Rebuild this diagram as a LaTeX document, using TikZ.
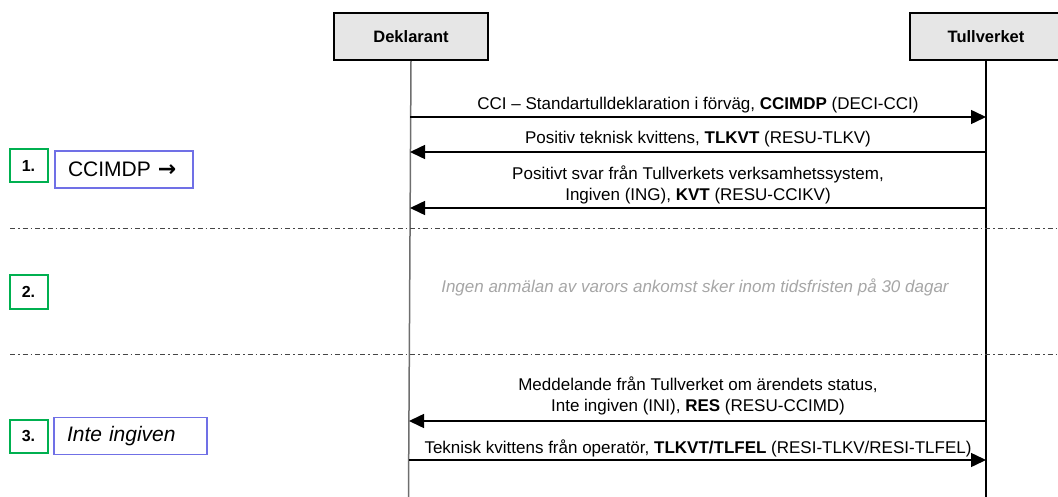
\documentclass[tikz,border=0pt]{standalone}
\usepackage{fontspec}
\setmainfont{Liberation Sans}
\newfontfamily\symfont{DejaVu Sans}
\usetikzlibrary{arrows.meta}
\definecolor{hdrfill}{RGB}{230,230,230}
\definecolor{stepgreen}{RGB}{0,176,80}
\definecolor{stepblue}{RGB}{112,112,230}
\definecolor{notegray}{RGB}{166,166,166}
\definecolor{lifegray}{RGB}{110,110,110}
\definecolor{divgray}{RGB}{70,70,70}
\begin{document}
\begin{tikzpicture}[x=1pt,y=-1pt,
  header/.style={draw=black, line width=2pt, fill=hdrfill, minimum height=47pt, inner sep=0pt,
    font=\fontsize{16.5}{20}\selectfont\bfseries},
  msg/.style={line width=1.5pt, -{Triangle[length=15pt,width=14pt]}},
  lbl/.style={anchor=base, inner sep=0pt, align=center, font=\fontsize{17}{21}\selectfont},
  numbox/.style={draw=stepgreen, line width=2pt, minimum width=38pt, minimum height=33pt, inner sep=0pt,
    font=\fontsize{16}{19}\selectfont\bfseries},
  statbox/.style={draw=stepblue, line width=1.5pt, inner xsep=13pt, inner ysep=0pt, minimum height=37pt,
    align=left, font=\fontsize{21}{24}\selectfont},
  divider/.style={line width=1pt, draw=divgray, dash pattern=on 5pt off 3pt on 1.5pt off 3pt},
  lifeline/.style={line width=1.5pt}
]
\useasboundingbox (0,0) rectangle (1058,497);

% headers
\node[header, minimum width=154pt] (dek) at (411,36.5) {Deklarant};
\node[header, minimum width=152pt] (tull) at (986,36.5) {Tullverket};

% lifelines
\coordinate (dekEnd) at (408.5,497);
\coordinate (tullEnd) at (986,497);
\draw[lifeline, lifegray] (dek.south) -- (dekEnd);
\draw[lifeline, black] (tull.south) -- (tullEnd);

% dividers
\coordinate (divA1) at (10,229); \coordinate (divA2) at (1058,229);
\coordinate (divB1) at (10,354); \coordinate (divB2) at (1058,354);
\draw[divider] (divA1) -- (divA2);
\draw[divider] (divB1) -- (divB2);

% message end points
\coordinate (d1) at (410,117); \coordinate (t1) at (986,117);
\coordinate (d2) at (410,152); \coordinate (t2) at (986,152);
\coordinate (d3) at (410,208); \coordinate (t3) at (986,208);
\coordinate (d4) at (409,421); \coordinate (t4) at (986,421);
\coordinate (d5) at (409,460); \coordinate (t5) at (986,460);

\draw[msg] (d1) -- (t1);
\draw[msg] (t2) -- (d2);
\draw[msg] (t3) -- (d3);
\draw[msg] (t4) -- (d4);
\draw[msg] (d5) -- (t5);

% labels
\node[lbl] (m1) at (698,110) {CCI – Standartulldeklaration i förväg, \textbf{CCIMDP} (DECI-CCI)};
\node[lbl] (m2) at (698,144) {Positiv teknisk kvittens, \textbf{TLKVT} (RESU-TLKV)};
\node[lbl] (m3a) at (698,180) {Positivt svar från Tullverkets verksamhetssystem,};
\node[lbl] (m3b) at (698,201) {Ingiven (ING), \textbf{KVT} (RESU-CCIKV)};
\node[lbl] (m4a) at (698,390) {Meddelande från Tullverket om ärendets status,};
\node[lbl] (m4b) at (698,411) {Inte ingiven (INI), \textbf{RES} (RESU-CCIMD)};
\node[lbl] (m5) at (698,453) {Teknisk kvittens från operatör, \textbf{TLKVT/TLFEL} (RESI-TLKV/RESI-TLFEL)};

\node[lbl, text=notegray, font=\fontsize{17}{21}\selectfont\itshape] (note) at (695,292)
  {Ingen anmälan av varors ankomst sker inom tidsfristen på 30 dagar};

% step boxes
\node[numbox] (n1) at (28.5,166) {1.};
\node[numbox] (n2) at (28.5,292) {2.};
\node[numbox] (n3) at (28.5,436.5) {3.};
\node[statbox, text width=112pt] (s1) at (124,169.5) {CCIMDP {\symfont\bfseries\fontsize{22}{24}\selectfont →}};
\node[statbox, text width=127pt] (s3) at (130.5,436) {\itshape Inte ingiven};
\end{tikzpicture}
\end{document}
